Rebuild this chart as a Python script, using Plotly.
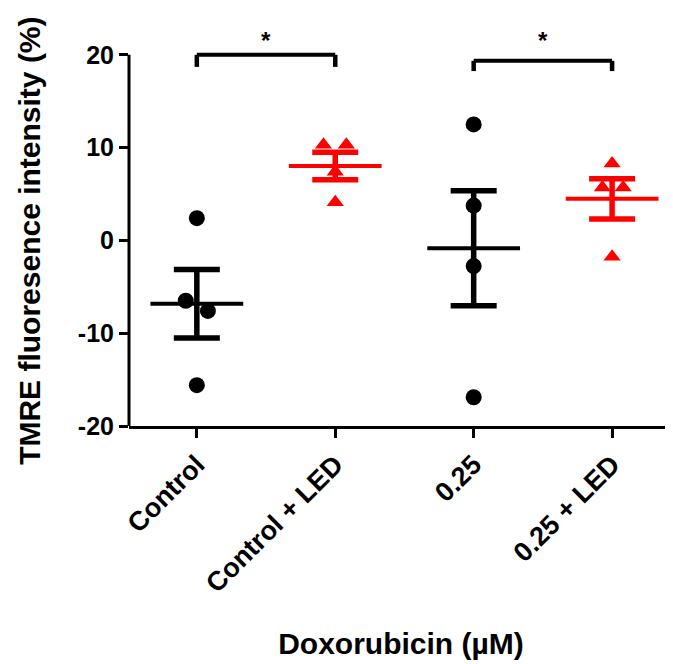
import numpy as np
import plotly.graph_objects as go

# ---- data ----
categories = ["Control", "Control + LED", "0.25", "0.25 + LED"]
control = [2.4, -6.5, -7.6, -15.6]
control_led = [10.3, 10.3, 7.4, 4.1]
dox = [12.5, 3.75, -2.77, -16.9]
dox_led = [8.3, 5.7, 5.7, -1.76]
series = [control, control_led, dox, dox_led]
# horizontal scatter (jitter) of points inside each column, in category units
jitter = [[0, -0.08, 0.08, 0], [-0.085, 0.08, 0, 0], [0, 0, 0, 0], [0, -0.07, 0.08, 0]]
colors = ["black", "#FF0000", "black", "#FF0000"]
symbols = ["circle", "triangle-up", "circle", "triangle-up"]
marker_sizes = [16, 15, 16, 15]
y_ticks = [-20, -10, 0, 10, 20]
# significance brackets: (left group, right group, bar level, leg bottom, star level)
brackets = [(0, 1, 20.0, 18.7, 21.55), (2, 3, 19.35, 18.25, 21.55)]

FONT = "Liberation Sans, Arial, sans-serif"

fig = go.Figure()
for i, vals in enumerate(series):
    xs = [i + j for j in jitter[i]]
    fig.add_trace(go.Scatter(
        x=xs, y=vals, mode="markers",
        marker=dict(symbol=symbols[i], size=marker_sizes[i], color=colors[i], line=dict(width=0)),
        showlegend=False, hoverinfo="y"))
    arr = np.array(vals)
    mean = arr.mean()
    sem = arr.std(ddof=1) / np.sqrt(len(arr))
    # mean line
    fig.add_trace(go.Scatter(
        x=[i - 0.335, i + 0.335], y=[mean, mean], mode="lines",
        line=dict(color=colors[i], width=4), showlegend=False, hoverinfo="skip"))
    # SEM error bar
    fig.add_trace(go.Scatter(
        x=[i], y=[mean], mode="markers", marker=dict(size=1, opacity=0),
        error_y=dict(type="data", array=[sem], symmetric=True, color=colors[i],
                     thickness=5.5, width=23),
        showlegend=False, hoverinfo="skip"))

y_range = [-20, 23]

shapes = [
    # y axis line only from -20 to 20
    dict(type="line", xref="paper", yref="y", x0=0, x1=0, y0=y_ticks[0], y1=y_ticks[-1],
         line=dict(color="black", width=3)),
]
annotations = [
    # y axis title, centred on the -20..20 span of the axis
    dict(x=-0.183, y=(y_ticks[0] + y_ticks[-1]) / 2, xref="paper", yref="y",
         text="<b>TMRE fluoresence intensity (%)</b>", textangle=-90, showarrow=False,
         xanchor="center", yanchor="middle",
         font=dict(family=FONT, size=30, color="black")),
]
for a, b, lvl, leg, star in brackets:
    shapes.append(dict(type="line", xref="x", yref="y", x0=a, x1=b, y0=lvl, y1=lvl,
                       line=dict(color="black", width=4)))
    shapes.append(dict(type="line", xref="x", yref="y", x0=a, x1=a, y0=leg, y1=lvl,
                       line=dict(color="black", width=4.5)))
    shapes.append(dict(type="line", xref="x", yref="y", x0=b, x1=b, y0=leg, y1=lvl,
                       line=dict(color="black", width=4.5)))
    annotations.append(dict(x=(a + b) / 2, y=star, xref="x", yref="y", text="<b>*</b>",
                            showarrow=False, font=dict(family=FONT, size=24, color="black"),
                            yanchor="middle"))

fig.update_layout(
    width=665, height=656,
    margin=dict(l=121, r=0, t=19, b=238),
    paper_bgcolor="white", plot_bgcolor="white",
    font=dict(family=FONT, size=22, color="black"),
    shapes=shapes, annotations=annotations,
    xaxis=dict(
        range=[-0.49, 3.44], tickmode="array", tickvals=list(range(len(categories))),
        ticktext=["<b>%s</b>" % c for c in categories], tickangle=-45,
        showline=True, linecolor="black", linewidth=3,
        ticks="outside", ticklen=9, tickwidth=3, tickcolor="black",
        showgrid=False, zeroline=False,
        tickfont=dict(family=FONT, size=27, color="black"),
        title=dict(text="<b>Doxorubicin (µM)</b>", font=dict(family=FONT, size=30, color="black"),
                   standoff=36),
    ),
    yaxis=dict(
        range=y_range, tickmode="array", tickvals=y_ticks,
        ticktext=["<b>%d</b>" % v for v in y_ticks],
        showline=False, ticks="outside", ticklen=9, tickwidth=3, tickcolor="black",
        showgrid=False, zeroline=False,
        tickfont=dict(family=FONT, size=25, color="black"),
    ),
)

fig.write_html("out.html")
